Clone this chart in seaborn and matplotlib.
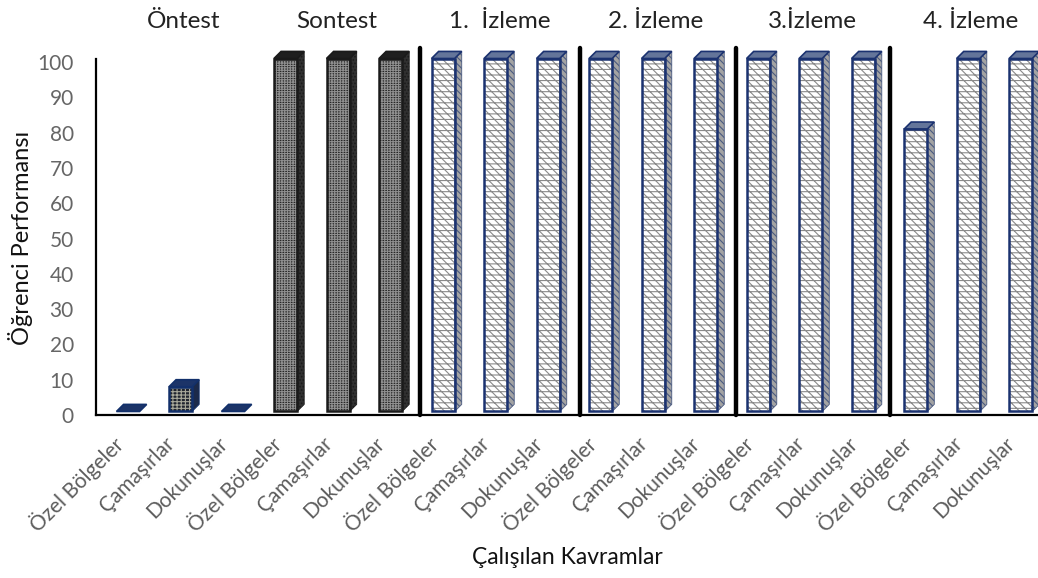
#!/usr/bin/env python3
# -*- coding: utf-8 -*-
import pandas as pd
import seaborn as sns
import matplotlib.pyplot as plt
from matplotlib.patches import Polygon, Rectangle
from matplotlib.transforms import ScaledTranslation, blended_transform_factory

# Datos
kavramlar = ['Özel Bölgeler', 'Çamaşırlar', 'Dokunuşlar'] * 6
performans = [0, 7, 0,
              100, 100, 100,
              100, 100, 100,
              100, 100, 100,
              100, 100, 100,
              80, 100, 100]
tipo = ['on'] * 3 + ['son'] * 3 + ['izleme'] * 12
asamalar = ['Öntest', 'Sontest', '1.  İzleme', '2. İzleme', '3.İzleme', '4. İzleme']
centros_asama = [1.05, 3.97, 7.08, 10.05, 13.03, 16.05]
separadores = [5.56, 8.6, 11.57, 14.52]

# Estilo de cada tipo de barra
estilos = {
    'on': dict(frente='#20242e', trama='#a8a89a', hatch='||||-----', borde='#12306b',
               lado='#1c2a4a', hatch_lado=None, tapa='#1c3468'),
    'son': dict(frente='#262626', trama='#8f8f8f', hatch='||||||-------', borde='#1a1a1a',
                lado='#303030', hatch_lado='.....', tapa='#1f1f1f'),
    'izleme': dict(frente='white', trama='#8a8a8a', hatch='\\\\\\\\---', borde='#1b3270',
                   lado='#a3a3a3', hatch_lado='\\\\\\\\\\', tapa='#64759a'),
}

DX = 0.135   # profundidad en categorias
DY = 2.0     # profundidad en unidades de y
BASE = 1.0   # el frente arranca un poco arriba del eje


def dibujar_3d(ax, barra, est):
    '''Agrega frente, lado y tapa a una barra usando su propia geometria'''
    x0 = barra.get_x()
    x1 = x0 + barra.get_width()
    alto = barra.get_height()
    barra.set_y(BASE)
    barra.set_clip_on(False)
    y0 = BASE
    y1 = BASE + alto
    z = barra.get_zorder()
    if alto > 0:
        barra.set_facecolor(est['frente'])
        barra.set_edgecolor(est['trama'])
        barra.set_linewidth(0)
        barra.set_hatch(est['hatch'])
        ax.add_patch(Rectangle((x0, y0), x1 - x0, alto, fill=False, ec=est['borde'],
                               lw=1.8, clip_on=False, zorder=z + 0.3))
        lado = [(x1, y0), (x1 + DX, y0 + DY), (x1 + DX, y1 + DY), (x1, y1)]
        ax.add_patch(Polygon(lado, fc=est['lado'], ec='#4a5a80' if est is estilos['izleme'] else est['borde'],
                             lw=0.6, hatch=est['hatch_lado'], clip_on=False, zorder=z + 0.1))
    else:
        barra.set_visible(False)
    tapa = [(x0, y1), (x1, y1), (x1 + DX, y1 + DY), (x0 + DX, y1 + DY)]
    ax.add_patch(Polygon(tapa, fc=est['tapa'], ec=est['borde'], lw=1.2,
                         clip_on=False, zorder=z + 0.2))


def main():
    sns.set_theme(style='white')
    plt.rcParams['font.family'] = ['Lato', 'DejaVu Sans']
    plt.rcParams['hatch.linewidth'] = 0.8

    df = pd.DataFrame({'pos': range(len(performans)), 'valor': performans, 'tipo': tipo})

    fig = plt.figure(figsize=(10.38, 5.78), dpi=100)
    ax = fig.add_axes([96 / 1038, 1 - 415 / 578, (1038 - 96) / 1038, 356.5 / 578])

    orden = ['on', 'son', 'izleme']
    sns.barplot(data=df, x='pos', y='valor', hue='tipo', hue_order=orden, dodge=False,
                width=0.44, palette=['#333333', '#333333', 'white'], legend=False, ax=ax)

    for nivel, cont in zip(orden, ax.containers):
        for barra in cont:
            dibujar_3d(ax, barra, estilos[nivel])

    ax.set_xlim(-0.61, 17.33)
    ax.set_ylim(0, 101)
    ax.set_yticks(range(0, 101, 10))
    ax.tick_params(axis='y', length=0, pad=16, labelsize=15, labelcolor='#666666')
    ax.set_xticks(range(len(kavramlar)))
    ax.set_xticklabels(kavramlar, rotation=45, ha='right', rotation_mode='anchor',
                       fontsize=15, color='#5c5c5c')
    # tick_params resetea el transform de las etiquetas, tiene que ir antes del corrimiento
    ax.tick_params(axis='x', length=0, pad=13)
    corrimiento = ScaledTranslation(-16 / 100, 0, fig.dpi_scale_trans)
    for lab in ax.get_xticklabels():
        lab.set_transform(lab.get_transform() + corrimiento)

    for lado in ['top', 'right']:
        ax.spines[lado].set_visible(False)
    for lado in ['left', 'bottom']:
        ax.spines[lado].set_color('black')
        ax.spines[lado].set_linewidth(1.6)

    for x in separadores:
        ax.axvline(x, ymin=0, ymax=1.03, color='black', lw=3.2, clip_on=False, zorder=5)

    trans = blended_transform_factory(ax.transData, fig.transFigure)
    for centro, nombre in zip(centros_asama, asamalar):
        ax.text(centro, 1 - 21 / 578, nombre, transform=trans, ha='center', va='center',
                fontsize=17.5, color='#222222')

    ax.set_xlabel('')
    ax.set_ylabel('')
    fig.text(567 / 1038, 1 - 558 / 578, 'Çalışılan Kavramlar', ha='center', va='center',
             fontsize=16.5, color='#111111')
    fig.text(21 / 1038, 1 - 238 / 578, 'Öğrenci Performansı', ha='center', va='center',
             rotation=90, fontsize=17, color='#111111')

    fig.savefig('out.png', dpi=100)


if __name__ == '__main__':
    main()
